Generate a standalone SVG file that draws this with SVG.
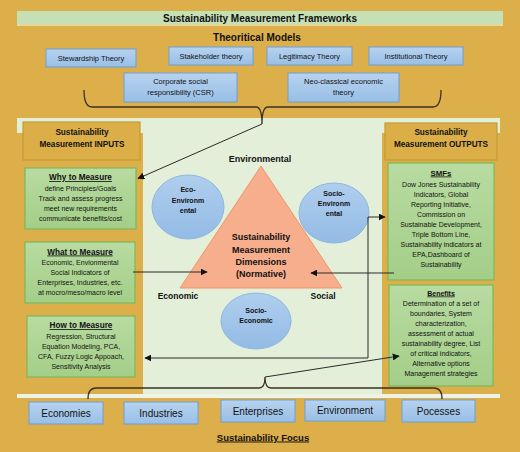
<svg xmlns="http://www.w3.org/2000/svg" width="520" height="452" viewBox="0 0 520 452">
<style>
text{font-family:"Liberation Sans",Arial,sans-serif;fill:#111;text-anchor:middle}
.b{font-weight:bold}
.u{text-decoration:underline}
.blue{fill:url(#gb);stroke:#6D9FD6;stroke-width:1}
.green{fill:url(#gg);stroke:#7DB858;stroke-width:1.2}
.gold{fill:#DBAE48;stroke:#C49B33;stroke-width:1.2}
.circ{fill:url(#gc);stroke:#8DB7E2;stroke-width:1}
.t75{font-size:7.5px}
.t7{font-size:7px}
.con{fill:none;stroke:#2b2b2b;stroke-width:1}
.brace{fill:none;stroke:#3b3222;stroke-width:1.3}
</style>
<defs>
<linearGradient id="gb" x1="0" y1="0" x2="0" y2="1"><stop offset="0" stop-color="#B7D2EF"/><stop offset="1" stop-color="#98BFE6"/></linearGradient>
<linearGradient id="gg" x1="0" y1="0" x2="0" y2="1"><stop offset="0" stop-color="#B8DBA1"/><stop offset="1" stop-color="#A3CE88"/></linearGradient>
<linearGradient id="gc" x1="0" y1="0" x2="0" y2="1"><stop offset="0" stop-color="#B0CEEE"/><stop offset="1" stop-color="#93BBE5"/></linearGradient>
<marker id="ar" viewBox="0 0 10 10" refX="9" refY="5" markerWidth="7" markerHeight="7" markerUnits="userSpaceOnUse" orient="auto-start-reverse"><path d="M0,0 L10,5 L0,10 z" fill="#111"/></marker>
</defs>

<rect x="0" y="0" width="520" height="452" fill="#DCAF4A"/>

<g id="title">
<rect x="17" y="11" width="486" height="13" fill="#C6E0B5"/>
<rect x="17" y="24" width="486" height="2" fill="#E6D79C"/>
<text x="260" y="22" class="b" font-size="10">Sustainability Measurement Frameworks</text>
</g>
<text x="257" y="40.5" class="b" font-size="10">Theoritical Models</text>

<g id="theory-stewardship"><rect x="46" y="49" width="90" height="18" class="blue"/><text x="91" y="61" class="t75">Stewardship Theory</text></g>
<g id="theory-stakeholder"><rect x="169" y="47" width="84" height="18" class="blue"/><text x="211" y="59" class="t75">Stakeholder theory</text></g>
<g id="theory-legitimacy"><rect x="267" y="47" width="85" height="18" class="blue"/><text x="309.5" y="59" class="t75">Legitimacy Theory</text></g>
<g id="theory-institutional"><rect x="369" y="47" width="94" height="18" class="blue"/><text x="416" y="59" class="t75">Institutional Theory</text></g>
<g id="theory-csr"><rect x="124" y="73" width="113" height="29" class="blue"/><text x="180.5" y="84" class="t75">Corporate social</text><text x="180.5" y="95" class="t75">responsibility (CSR)</text></g>
<g id="theory-neo"><rect x="288" y="73" width="111" height="29" class="blue"/><text x="343.5" y="84" class="t75">Neo-classical economic</text><text x="343.5" y="95" class="t75">theory</text></g>

<g id="panel">
<rect x="17" y="118" width="483" height="276" fill="#E3EFD9"/>
<rect x="17" y="394" width="483" height="4" fill="#EEF3E7"/>
<rect x="17" y="133" width="126" height="261" fill="#DCAF4A"/>
<rect x="382" y="133" width="118" height="261" fill="#DCAF4A"/>
</g>

<g id="inputs-header"><rect x="23" y="122" width="117" height="38" class="gold"/><text x="82" y="135" class="b" font-size="8.2">Sustainability</text><text x="82" y="146.5" class="b" font-size="8.2">Measurement INPUTS</text></g>
<g id="outputs-header"><rect x="385" y="123" width="112" height="37" class="gold"/><text x="441" y="135" class="b" font-size="8.2">Sustainability</text><text x="441" y="146.5" class="b" font-size="8.2">Measurement OUTPUTS</text></g>

<g id="why">
<rect x="25" y="168" width="111" height="61" class="green"/>
<text x="80.5" y="180" class="b u" font-size="8.2">Why to Measure</text>
<text x="80.5" y="190.5" class="t7">define Principles/Goals</text>
<text x="80.5" y="200.5" class="t7">Track and assess progress</text>
<text x="80.5" y="210.5" class="t7">meet new requirements</text>
<text x="80.5" y="220.5" class="t7">communicate benefits/cost</text>
</g>
<g id="what">
<rect x="25" y="242" width="110" height="61" class="green"/>
<text x="80" y="254.5" class="b u" font-size="8.2">What to Measure</text>
<text x="80" y="265" class="t7">Economic, Envionmental</text>
<text x="80" y="275" class="t7">Social Indicators of</text>
<text x="80" y="285" class="t7">Enterprises, Industries, etc.</text>
<text x="80" y="295" class="t7">at mocro/meso/macro level</text>
</g>
<g id="how">
<rect x="27" y="316" width="108" height="61" class="green"/>
<text x="81" y="328" class="b u" font-size="8.2">How to Measure</text>
<text x="81" y="338.5" class="t7">Regression, Structural</text>
<text x="81" y="348.5" class="t7">Equation Modeling, PCA,</text>
<text x="81" y="358.5" class="t7">CFA, Fuzzy Logic Appoach,</text>
<text x="81" y="368.5" class="t7">Sensitivity Analysis</text>
</g>

<g id="smfs">
<rect x="388" y="163" width="106" height="117" class="green"/>
<text x="441" y="175.5" class="b u" font-size="7.8">SMFs</text>
<text x="441" y="186.5" class="t7">Dow Jones Sustainability</text>
<text x="441" y="196.5" class="t7">Indicators, Global</text>
<text x="441" y="206.5" class="t7">Reporting Initiative,</text>
<text x="441" y="216.5" class="t7">Commission on</text>
<text x="441" y="226.5" class="t7">Sustainable Development,</text>
<text x="441" y="236.5" class="t7">Triple Bottom Line,</text>
<text x="441" y="246.5" class="t7">Sustainability indicators at</text>
<text x="441" y="256.5" class="t7">EPA,Dashboard of</text>
<text x="441" y="266.5" class="t7">Sustainability</text>
</g>
<g id="benefits">
<rect x="389" y="285" width="104" height="101" class="green"/>
<text x="441" y="295.5" class="b u" font-size="7">Benefits</text>
<text x="441" y="305.5" class="t7">Determination of a set of</text>
<text x="441" y="315.5" class="t7">boundaries, System</text>
<text x="441" y="325.5" class="t7">characterization,</text>
<text x="441" y="335.5" class="t7">assessment of actual</text>
<text x="441" y="345.5" class="t7">sustainability degree, List</text>
<text x="441" y="355.5" class="t7">of critical indicators,</text>
<text x="441" y="365.5" class="t7">Alternative options</text>
<text x="441" y="375.5" class="t7">Management strategies</text>
</g>

<g id="triangle">
<polygon points="261,166 180,288 342,288" fill="#F6AE8D" stroke="#F09666" stroke-width="1"/>
<text x="261" y="240" class="b" font-size="9">Sustainability</text>
<text x="261" y="252.5" class="b" font-size="9">Measurement</text>
<text x="261" y="264.5" class="b" font-size="9">Dimensions</text>
<text x="261" y="277" class="b" font-size="9">(Normative)</text>
</g>
<text x="260" y="161.5" class="b" font-size="9">Environmental</text>
<text x="178" y="299" class="b" font-size="8.5">Economic</text>
<text x="323" y="299" class="b" font-size="8.5">Social</text>

<g id="eco-env"><ellipse cx="188" cy="207" rx="36" ry="32" class="circ"/><text x="188" y="192" class="b t7">Eco-</text><text x="188" y="202.5" class="b t7">Environm</text><text x="188" y="213" class="b t7">ental</text></g>
<g id="socio-env"><ellipse cx="334" cy="213" rx="35" ry="30" class="circ"/><text x="334" y="195.5" class="b t7">Socio-</text><text x="334" y="205.5" class="b t7">Environm</text><text x="334" y="215.5" class="b t7">ental</text></g>
<g id="socio-econ"><ellipse cx="256" cy="321" rx="35" ry="28" class="circ"/><text x="256" y="312.5" class="b t7">Socio-</text><text x="256" y="322.5" class="b t7">Economic</text></g>

<g id="focus-economies"><rect x="29" y="402" width="74" height="22" class="blue"/><text x="66" y="416.5" font-size="10">Economies</text></g>
<g id="focus-industries"><rect x="124" y="402" width="74" height="22" class="blue"/><text x="161" y="416.5" font-size="10">Industries</text></g>
<g id="focus-enterprises"><rect x="221" y="400" width="74" height="22" class="blue"/><text x="258" y="414.5" font-size="10">Enterprises</text></g>
<g id="focus-environment"><rect x="305" y="400" width="80" height="21" class="blue"/><text x="345" y="414" font-size="10">Environment</text></g>
<g id="focus-pocesses"><rect x="402" y="400" width="73" height="22" class="blue"/><text x="438.5" y="414.5" font-size="10">Pocesses</text></g>
<text x="263" y="440.5" class="b u" font-size="9.5">Sustainability Focus</text>

<g id="connectors">
<path class="brace" d="M84,90 Q84,107 92,107 L256,107 Q262,107 262,124 Q262,107 268,107 L433,107 Q441,107 441,90"/>
<path class="brace" d="M88,399 Q88,388 96,388 L259,388 Q265,388 265,377 Q265,388 271,388 L434,388 Q442,388 442,399"/>
<line class="con" x1="262" y1="124" x2="138" y2="178.5" marker-end="url(#ar)"/>
<line class="con" x1="133" y1="272" x2="207" y2="272" marker-end="url(#ar)"/>
<line class="con" x1="394" y1="273" x2="311" y2="273" marker-end="url(#ar)"/>
<path class="con" d="M385,217 H368 V358 H145" marker-start="url(#ar)" marker-end="url(#ar)"/>
<line class="con" x1="265" y1="377" x2="399" y2="356" marker-end="url(#ar)"/>
</g>
</svg>
